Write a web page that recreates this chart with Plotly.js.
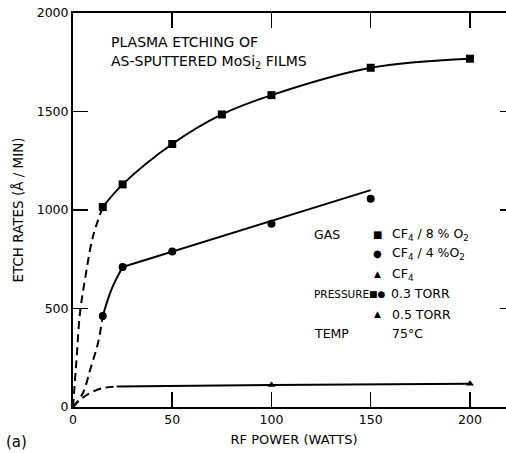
<!DOCTYPE html>
<html>
<head>
<meta charset="utf-8">
<script src="https://cdn.plot.ly/plotly-3.0.1.min.js"></script>
<style>
html,body{margin:0;padding:0;overflow:hidden;background:#fff;width:506px;height:453px;}
#chart{width:515px;height:453px;}
</style>
</head>
<body>
<div id="chart"></div>
<script>
// ---- data ----
// CF4 / 8% O2, 0.3 torr (squares)
const sqPower = [15, 25, 50, 75, 100, 150, 200];
const sqRate  = [1015, 1130, 1335, 1485, 1583, 1722, 1768];
// dashed extrapolation to origin (squares)
const sqDashPower = [0, 1, 2, 3.5, 6, 10, 15];
const sqDashRate  = [0, 137, 274, 477, 645, 863, 1015];

// CF4 / 4% O2, 0.3 torr (circles)
const ciPower = [15, 25, 50, 100, 150];
const ciRate  = [462, 711, 789, 930, 1057];
const ciCurvePower = [15, 19.5, 25];
const ciCurveRate  = [462, 600, 711];
const ciFitPower = [25, 150];
const ciFitRate  = [711, 1101];
const ciDashPower = [0, 5, 8.6, 12.6, 15];
const ciDashRate  = [0, 71, 188, 325, 462];

// CF4, 0.5 torr (triangles)
const trPower = [100, 200];
const trRate  = [112, 118];
const trFitPower = [22, 100, 200];
const trFitRate  = [104, 112, 118];
const trDashPower = [0, 4, 8.6, 15, 22];
const trDashRate  = [0, 40, 71, 96, 104];

const xTicks = [0, 50, 100, 150, 200];
const yTicks = [0, 500, 1000, 1500, 2000];

const FONT = 'DejaVu Sans, sans-serif';
const solid = {color: '#000', width: 2};
const dashed = {color: '#000', width: 2, dash: '8px,5px'};

const traces = [
  {x: sqDashPower, y: sqDashRate, mode: 'lines', line: Object.assign({shape: 'spline'}, dashed), hoverinfo: 'skip'},
  {x: ciDashPower, y: ciDashRate, mode: 'lines', line: Object.assign({shape: 'spline'}, dashed), hoverinfo: 'skip'},
  {x: trDashPower, y: trDashRate, mode: 'lines', line: Object.assign({shape: 'spline'}, dashed), hoverinfo: 'skip'},
  {x: sqPower, y: sqRate, mode: 'lines+markers', line: Object.assign({shape: 'spline'}, solid),
   marker: {symbol: 'square', size: 8, color: '#000'}, name: 'CF4/8% O2'},
  {x: ciCurvePower, y: ciCurveRate, mode: 'lines', line: Object.assign({shape: 'spline'}, solid), hoverinfo: 'skip'},
  {x: ciFitPower, y: ciFitRate, mode: 'lines', line: solid, hoverinfo: 'skip'},
  {x: ciPower, y: ciRate, mode: 'markers', marker: {symbol: 'circle', size: 8, color: '#000'}, name: 'CF4/4% O2'},
  {x: trFitPower, y: trFitRate, mode: 'lines', line: solid, hoverinfo: 'skip'},
  {x: trPower, y: trRate, mode: 'markers', marker: {symbol: 'triangle-up', size: 7, color: '#000'}, name: 'CF4'}
];

const rowY = [878, 777, 675, 574, 472, 371];
const labX = 120.4, symX = 153.5, txtX = 159.7;
function ann(x, y, text, anchor, size) {
  return {x: x, y: y, xref: 'x', yref: 'y', text: text, showarrow: false,
          xanchor: anchor, yanchor: 'middle', font: {family: FONT, size: size || 12, color: '#000'}};
}

const annotations = [
  ann(18.1, 1853, 'PLASMA ETCHING OF', 'left', 14),
  ann(18.1, 1751, 'AS-SPUTTERED MoSi<sub>2</sub> FILMS', 'left', 14),
  ann(labX, rowY[0], 'GAS', 'left', 12.5),
  ann(symX, rowY[0], '■', 'center', 10),
  ann(txtX, rowY[0], 'CF<sub>4</sub> / 8 % O<sub>2</sub>', 'left', 12.5),
  ann(symX, rowY[1], '●', 'center', 10),
  ann(txtX, rowY[1], 'CF<sub>4</sub> / 4 %O<sub>2</sub>', 'left', 12.5),
  ann(symX, rowY[2], '▲', 'center', 9),
  ann(txtX, rowY[2], 'CF<sub>4</sub>', 'left', 12.5),
  ann(labX, rowY[3], 'PRESSURE', 'left', 10.5),
  ann(158.6, rowY[3], '■●', 'right', 9),
  ann(159.2, rowY[3], '0.3 TORR', 'left', 12.5),
  ann(symX, rowY[4], '▲', 'center', 9),
  ann(txtX, rowY[4], '0.5 TORR', 'left', 12.5),
  ann(labX, rowY[5], 'TEMP', 'left', 12.5),
  ann(txtX, rowY[5], '75°C', 'left', 12.5),
  {x: -0.156, y: -0.09, xref: 'paper', yref: 'paper', text: '(a)', showarrow: false,
   xanchor: 'left', yanchor: 'middle', font: {family: FONT, size: 15, color: '#000'}}
];

const axisCommon = {
  ticks: 'inside', ticklen: 15, tickwidth: 1.5, tickcolor: '#000',
  showline: true, linewidth: 2, linecolor: '#000', mirror: 'ticks',
  showgrid: false, zeroline: false,
  tickfont: {family: FONT, size: 12.5, color: '#000'}
};

const layout = {
  width: 515, height: 453,
  margin: {l: 73, r: 0, t: 13, b: 46},
  paper_bgcolor: '#fff', plot_bgcolor: '#fff',
  showlegend: false,
  xaxis: Object.assign({}, axisCommon, {
    range: [0, 222.7], tickvals: xTicks, ticktext: xTicks.map(String),
    title: {text: 'RF POWER (WATTS)', font: {family: FONT, size: 13, color: '#000'}, standoff: 9}
  }),
  yaxis: Object.assign({}, axisCommon, {
    range: [0, 2000], tickvals: yTicks, ticktext: yTicks.map(String),
    title: {text: 'ETCH RATES (Å / MIN)', font: {family: FONT, size: 13.5, color: '#000'}, standoff: 10}
  }),
  annotations: annotations
};

Plotly.newPlot('chart', traces, layout, {staticPlot: true, displayModeBar: false});
</script>
</body>
</html>
